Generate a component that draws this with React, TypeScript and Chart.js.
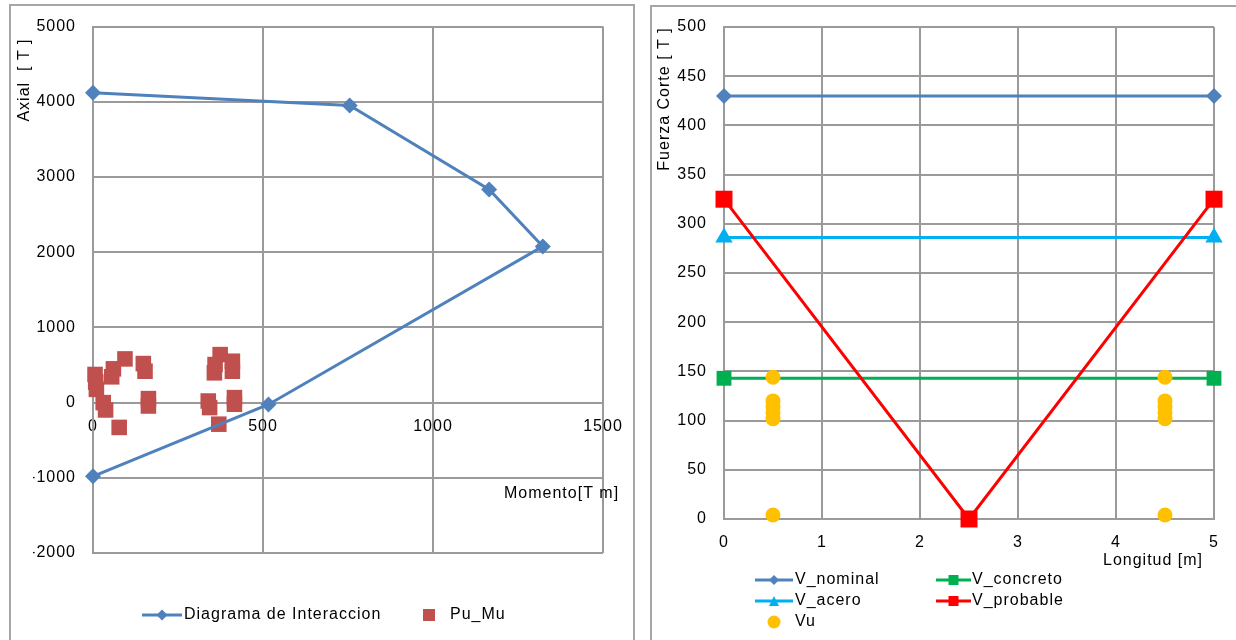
import React, { useEffect, useRef } from 'react';
import { Chart, registerables } from 'chart.js';

Chart.register(...registerables);

const FONT = '"Liberation Sans", Arial, sans-serif';
const GRID = '#9a9a9a';

// ---------- Left chart: Diagrama de Interaccion ----------
const interaccionMomento = [0, 755, 1165, 1323, 516, 0];
const interaccionAxial = [4120, 3950, 2835, 2077, -25, -980];
const puMuMomento = [6, 8, 10, 55, 60, 94, 148, 153, 30, 37, 77, 163, 163, 339, 343, 370, 357, 359, 374, 410, 410, 416, 416];
const puMuAxial = [374, 272, 176, 343, 449, 581, 519, 417, 0, -98, -330, 53, -45, 21, -66, -287, 396, 506, 638, 550, 417, 66, -22];
const momentoTicks = [0, 500, 1000, 1500];
const axialTicks = [-2000, -1000, 0, 1000, 2000, 3000, 4000, 5000];

// ---------- Right chart: Fuerza Corte ----------
const longitudLinea = [0, 5];
const vNominal = [430, 430];
const vConcreto = [143, 143];
const vAcero = [286, 286];
const longitudProbable = [0, 2.5, 5];
const vProbable = [325, 0, 325];
const longitudVu = [0.5, 0.5, 0.5, 0.5, 0.5, 0.5, 4.5, 4.5, 4.5, 4.5, 4.5, 4.5];
const vu = [144, 120, 114, 108, 102, 4, 144, 120, 114, 108, 102, 4];
const longitudTicks = [0, 1, 2, 3, 4, 5];
const corteTicks = [0, 50, 100, 150, 200, 250, 300, 350, 400, 450, 500];

const COLORS = {
  interaccion: '#4F81BD',
  puMu: '#C0504D',
  nominal: '#4F81BD',
  concreto: '#00B050',
  acero: '#00B0F0',
  probable: '#FF0000',
  vu: '#FFC000',
};

const zip = (xs: number[], ys: number[]) => xs.map((x, i) => ({ x, y: ys[i] }));
const plain = (v: any) => String(v);

type TextItem = { text: string; x: number; y: number; align?: CanvasTextAlign; rotate?: boolean };
type LegendItem = {
  label: string;
  x: number;
  y: number;
  lineTo: number | null;
  textX: number;
  color: string;
  marker: 'rectRot' | 'rect' | 'triangle' | 'circle';
  size: number;
};

function drawMarker(ctx: CanvasRenderingContext2D, m: string, x: number, y: number, s: number, color: string) {
  ctx.fillStyle = color;
  ctx.beginPath();
  if (m === 'rect') {
    ctx.rect(x - s / 2, y - s / 2, s, s);
  } else if (m === 'rectRot') {
    ctx.moveTo(x, y - s / 2);
    ctx.lineTo(x + s / 2, y);
    ctx.lineTo(x, y + s / 2);
    ctx.lineTo(x - s / 2, y);
    ctx.closePath();
  } else if (m === 'triangle') {
    ctx.moveTo(x, y - s / 2);
    ctx.lineTo(x + s / 2, y + s / 2);
    ctx.lineTo(x - s / 2, y + s / 2);
    ctx.closePath();
  } else {
    ctx.arc(x, y, s / 2, 0, Math.PI * 2);
  }
  ctx.fill();
}

function overlayPlugin(texts: TextItem[], legend: LegendItem[]) {
  return {
    id: 'overlay',
    beforeDraw(chart: any) {
      (chart.ctx as any).letterSpacing = '1px';
    },
    afterDraw(chart: any) {
      const ctx: CanvasRenderingContext2D = chart.ctx;
      ctx.save();
      (ctx as any).letterSpacing = '1px';
      ctx.font = `16px ${FONT}`;
      ctx.textBaseline = 'middle';
      for (const t of texts) {
        ctx.save();
        ctx.fillStyle = '#000';
        ctx.translate(t.x, t.y);
        if (t.rotate) ctx.rotate(-Math.PI / 2);
        ctx.textAlign = t.align || 'left';
        ctx.fillText(t.text, 0, 0);
        ctx.restore();
      }
      for (const l of legend) {
        if (l.lineTo !== null) {
          ctx.strokeStyle = l.color;
          ctx.lineWidth = 3;
          ctx.beginPath();
          ctx.moveTo(l.x, l.y);
          ctx.lineTo(l.lineTo, l.y);
          ctx.stroke();
          drawMarker(ctx, l.marker, (l.x + l.lineTo) / 2, l.y, l.size, l.color);
        } else {
          drawMarker(ctx, l.marker, l.x, l.y, l.size, l.color);
        }
        ctx.fillStyle = '#000';
        ctx.textAlign = 'left';
        ctx.fillText(l.label, l.textX, l.y);
      }
      ctx.restore();
    },
  };
}

const tickFont = { family: FONT, size: 16 };

function LeftChart() {
  const ref = useRef<HTMLCanvasElement>(null);
  useEffect(() => {
    const chart = new Chart(ref.current!, {
      type: 'scatter',
      data: {
        datasets: [
          {
            label: 'Diagrama de Interaccion',
            data: zip(interaccionMomento, interaccionAxial),
            showLine: true,
            borderColor: COLORS.interaccion,
            backgroundColor: COLORS.interaccion,
            borderWidth: 3,
            pointStyle: 'rectRot',
            pointRadius: 8,
            pointBorderWidth: 0,
            order: 0,
            clip: false,
          } as any,
          {
            label: 'Pu_Mu',
            data: zip(puMuMomento, puMuAxial),
            showLine: false,
            backgroundColor: COLORS.puMu,
            borderColor: COLORS.puMu,
            pointStyle: 'rect',
            pointRadius: 11,
            pointBorderWidth: 0,
            order: 1,
            clip: false,
          } as any,
        ],
      },
      options: {
        animation: false,
        responsive: false,
        events: [],
        layout: { padding: { left: 33, right: 42, top: 24, bottom: 87 } },
        plugins: { legend: { display: false }, tooltip: { enabled: false } },
        scales: {
          x: {
            type: 'linear',
            min: 0,
            max: 1500,
            position: { y: 0 } as any,
            afterBuildTicks: (s: any) => {
              s.ticks = momentoTicks.map((v) => ({ value: v }));
            },
            grid: { color: GRID, lineWidth: 2, drawTicks: false },
            border: { color: GRID, width: 2 },
            ticks: { font: tickFont, color: '#000', padding: 14, maxRotation: 0, callback: plain },
          },
          y: {
            type: 'linear',
            min: -2000,
            max: 5000,
            afterBuildTicks: (s: any) => {
              s.ticks = axialTicks.map((v) => ({ value: v }));
            },
            afterFit: (s: any) => {
              s.width = 60;
            },
            grid: { color: GRID, lineWidth: 2, drawTicks: false },
            border: { color: GRID, width: 2 },
            ticks: { font: tickFont, color: '#000', padding: 17, callback: plain },
          },
        },
      } as any,
      plugins: [
        overlayPlugin(
          [
            { text: 'Axial  [ T ]', x: 25, y: 80, rotate: true, align: 'center' },
            { text: 'Momento[T m]', x: 504, y: 494 },
          ],
          [
            { label: 'Diagrama de Interaccion', x: 142, y: 615, lineTo: 182, textX: 184, color: COLORS.interaccion, marker: 'rectRot', size: 11 },
            { label: 'Pu_Mu', x: 429, y: 615, lineTo: null, textX: 450, color: COLORS.puMu, marker: 'rect', size: 12 },
          ]
        ),
      ],
    });
    return () => chart.destroy();
  }, []);
  return <canvas ref={ref} width={645} height={640} style={{ position: 'absolute', left: 0, top: 0, width: 645, height: 640 }} />;
}

function RightChart() {
  const ref = useRef<HTMLCanvasElement>(null);
  useEffect(() => {
    const base = { showLine: true, borderWidth: 3, pointBorderWidth: 0, clip: false };
    const chart = new Chart(ref.current!, {
      type: 'scatter',
      data: {
        datasets: [
          { ...base, label: 'V_nominal', data: zip(longitudLinea, vNominal), borderColor: COLORS.nominal, backgroundColor: COLORS.nominal, pointStyle: 'rectRot', pointRadius: 8, order: 4 } as any,
          { ...base, label: 'V_acero', data: zip(longitudLinea, vAcero), borderColor: COLORS.acero, backgroundColor: COLORS.acero, pointStyle: 'triangle', pointRadius: 10, order: 3 } as any,
          { ...base, label: 'V_concreto', data: zip(longitudLinea, vConcreto), borderColor: COLORS.concreto, backgroundColor: COLORS.concreto, pointStyle: 'rect', pointRadius: 10.5, order: 2 } as any,
          { ...base, label: 'V_probable', data: zip(longitudProbable, vProbable), borderColor: COLORS.probable, backgroundColor: COLORS.probable, pointStyle: 'rect', pointRadius: 12, order: 1 } as any,
          { ...base, showLine: false, label: 'Vu', data: zip(longitudVu, vu), borderColor: COLORS.vu, backgroundColor: COLORS.vu, pointStyle: 'circle', pointRadius: 7.5, order: 0 } as any,
        ],
      },
      options: {
        animation: false,
        responsive: false,
        events: [],
        layout: { padding: { left: 29, right: 22, top: 27, bottom: 91 } },
        plugins: { legend: { display: false }, tooltip: { enabled: false } },
        scales: {
          x: {
            type: 'linear',
            min: 0,
            max: 5,
            afterBuildTicks: (s: any) => {
              s.ticks = longitudTicks.map((v) => ({ value: v }));
            },
            afterFit: (s: any) => {
              s.height = 30;
            },
            grid: { color: GRID, lineWidth: 2, drawTicks: false },
            border: { color: GRID, width: 2 },
            ticks: { font: tickFont, color: '#000', padding: 14, maxRotation: 0, callback: plain },
          },
          y: {
            type: 'linear',
            min: 0,
            max: 500,
            afterBuildTicks: (s: any) => {
              s.ticks = corteTicks.map((v) => ({ value: v }));
            },
            afterFit: (s: any) => {
              s.width = 50;
            },
            grid: { color: GRID, lineWidth: 2, drawTicks: false },
            border: { color: GRID, width: 2 },
            ticks: { font: tickFont, color: '#000', padding: 17, callback: plain },
          },
        },
      } as any,
      plugins: [
        overlayPlugin(
          [
            { text: 'Fuerza Corte [ T ]', x: 20, y: 99, rotate: true, align: 'center' },
            { text: 'Longitud [m]', x: 458, y: 561 },
          ],
          [
            { label: 'V_nominal', x: 110, y: 580, lineTo: 148, textX: 150, color: COLORS.nominal, marker: 'rectRot', size: 10 },
            { label: 'V_acero', x: 110, y: 601, lineTo: 148, textX: 150, color: COLORS.acero, marker: 'triangle', size: 10 },
            { label: 'Vu', x: 129, y: 622, lineTo: null, textX: 150, color: COLORS.vu, marker: 'circle', size: 13 },
            { label: 'V_concreto', x: 291, y: 580, lineTo: 326, textX: 327, color: COLORS.concreto, marker: 'rect', size: 10 },
            { label: 'V_probable', x: 291, y: 601, lineTo: 326, textX: 327, color: COLORS.probable, marker: 'rect', size: 10 },
          ]
        ),
      ],
    });
    return () => chart.destroy();
  }, []);
  return <canvas ref={ref} width={591} height={640} style={{ position: 'absolute', left: 645, top: 0, width: 591, height: 640 }} />;
}

export default function App() {
  return (
    <div style={{ position: 'fixed', left: 0, top: 0, width: 1236, height: 640, overflow: 'hidden', background: '#fff' }}>
      <div style={{ position: 'absolute', left: 9, top: 4, width: 626, height: 660, border: '2px solid #a6a6a6', boxSizing: 'border-box' }} />
      <div style={{ position: 'absolute', left: 650, top: 5, width: 620, height: 660, border: '2px solid #a6a6a6', boxSizing: 'border-box' }} />
      <LeftChart />
      <RightChart />
    </div>
  );
}
